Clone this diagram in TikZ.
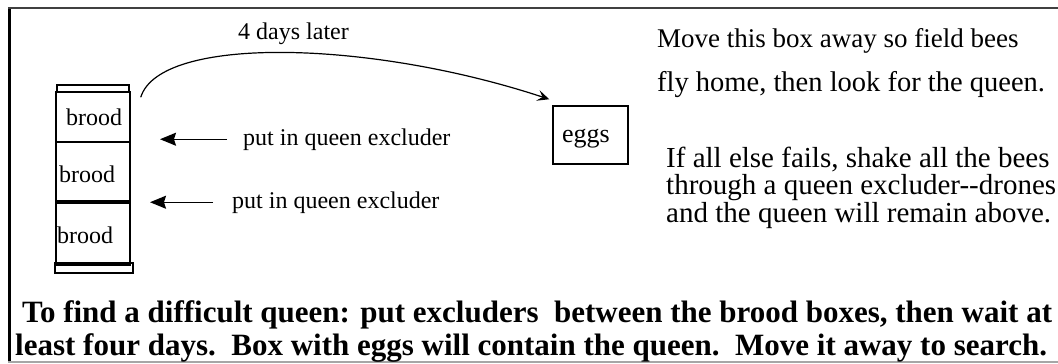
\documentclass[tikz,border=0pt]{standalone}
\usepackage{fontspec}
\setmainfont{Liberation Serif}
\usetikzlibrary{arrows.meta}
\tikzstyle{hivebox} = [rectangle, draw, line width=1.5pt, inner sep=0pt]
\tikzstyle{txt} = [inner sep=0pt, anchor=base west, font=\fontsize{24}{28}\selectfont]
\tikzstyle{note} = [inner sep=0pt, anchor=base west, font=\fontsize{28.5}{30}\selectfont]
\tikzstyle{howto} = [inner sep=0pt, anchor=base west, font=\fontsize{31}{33}\selectfont\bfseries]
\tikzstyle{line} = [draw, line width=1.3pt, -{Stealth[length=16pt, width=13pt, inset=2pt]}]
\tikzstyle{curve} = [draw, line width=1.2pt, -{Stealth[length=12pt, width=11pt, inset=5pt]}]

\begin{document}
\begin{tikzpicture}[x=1pt, y=-1pt]
\useasboundingbox (0, 0) rectangle (1058, 364);

% frame
\draw [line width=3pt] (9.5, 7) -- (9.5, 363);
\draw [line width=2pt, black!75] (8, 8) -- (1060, 8);
\draw [line width=1.5pt, black!35] (8, 362) -- (1060, 362);

% hive
\node [hivebox, minimum width=72pt, minimum height=7pt] at (93, 88.5) (lid) {};
\node [hivebox, minimum width=74pt, minimum height=50pt] at (93, 117) (b1) {};
\node [hivebox, minimum width=74pt, minimum height=59pt] at (93, 171.5) (b2) {};
\node [hivebox, minimum width=74pt, minimum height=62pt] at (93, 232) (b3) {};
\node [hivebox, minimum width=78pt, minimum height=10pt] at (94, 268) (floor) {};
\draw [line width=3.5pt] (b2.south west) -- (b2.south east);
\draw [line width=3.5pt] (b3.south west) -- (b3.south east);

\node [txt] at (66, 125) (br1) {brood};
\node [txt] at (59, 182) (br2) {brood};
\node [txt] at (57, 243) (br3) {brood};

% excluders
\node [txt] at (243, 145) (ex1) {put in queen excluder};
\node [txt] at (232, 208) (ex2) {put in queen excluder};
\coordinate (tip1) at (160, 139);
\coordinate (tip2) at (150, 202);
\path [line] ([xshift=-16pt]ex1.west) -- (ex1.west -| tip1);
\path [line] ([xshift=-19pt]ex2.west) -- (ex2.west -| tip2);

% move the eggs box
\node [hivebox, minimum width=75pt, minimum height=58pt] at (590.5, 135) (eggs) {};
\node [txt, font=\fontsize{26}{30}\selectfont] at (562, 142) (eggtxt) {eggs};
\node [txt] at (238, 39) (later) {4 days later};
\path [curve] ([xshift=10pt, yshift=-6pt]b1.north east) .. controls (160, 35) and (370, 40) .. ([xshift=-3pt, yshift=6pt]eggs.north west);

% notes
\node [note, font=\fontsize{27}{30}\selectfont] at (657, 47) (away1) {Move this box away so field bees};
\node [note] at (657, 91) (away2) {fly home, then look for the queen.};
\node [note, font=\fontsize{29}{30}\selectfont] at (666, 167) (shake1) {If all else fails, shake all the bees};
\node [note, font=\fontsize{29}{30}\selectfont] at (666, 194) (shake2) {through a queen excluder-{}-drones};
\node [note, font=\fontsize{29}{30}\selectfont] at (666, 222) (shake3) {and the queen will remain above.};

\node [howto] at (22, 322) (howto1) {To find a difficult queen: put excluders\ \ between the brood boxes, then wait at};
\node [howto] at (15, 355) (howto2) {least four days.\ \ Box with eggs will contain the queen.\ \ Move it away to search.};

\end{tikzpicture}
\end{document}
